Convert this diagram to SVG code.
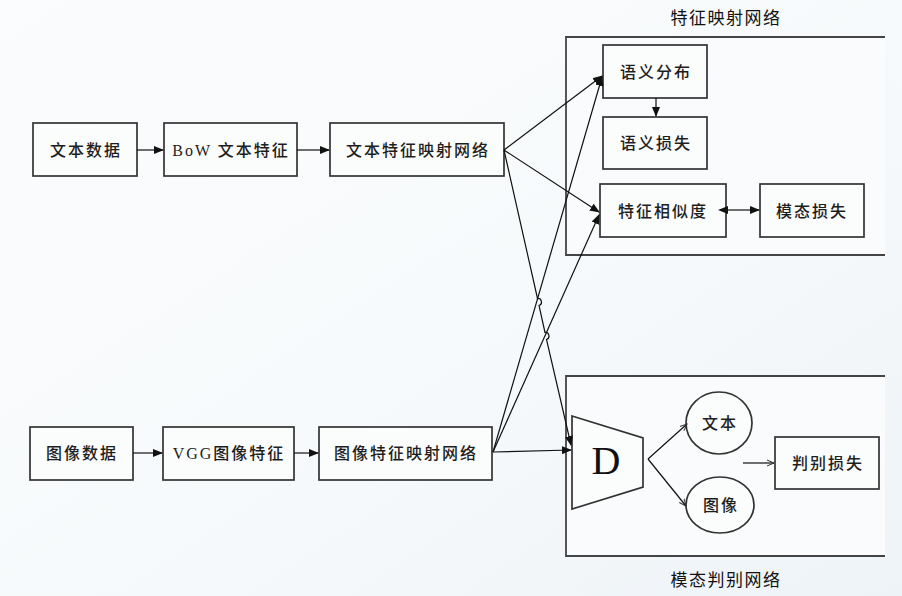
<svg xmlns="http://www.w3.org/2000/svg" width="902" height="596" viewBox="0 0 902 596">
<defs>
<linearGradient id="bg" x1="0" y1="0" x2="1" y2="1">
<stop offset="0" stop-color="#fbfcfd"/>
<stop offset="0.6" stop-color="#f6f9fb"/>
<stop offset="1" stop-color="#eef3f7"/>
</linearGradient>
<marker id="ah" markerWidth="10" markerHeight="8" refX="9" refY="4" orient="auto" markerUnits="userSpaceOnUse">
<path d="M0,0 L10,4 L0,8 Z" fill="#111"/>
</marker>
<marker id="ahs" markerWidth="10" markerHeight="8" refX="1" refY="4" orient="auto-start-reverse" markerUnits="userSpaceOnUse">
<path d="M0,0 L10,4 L0,8 Z" fill="#111"/>
</marker>
<marker id="ao" markerWidth="8" markerHeight="8" refX="7" refY="4" orient="auto" markerUnits="userSpaceOnUse">
<path d="M0,1 L7,4 L0,7" fill="none" stroke="#333" stroke-width="1"/>
</marker>
</defs>
<style>
.box{fill:#fbfcfc;stroke:#333;stroke-width:1.7}
.cont{fill:#fafbfc;stroke:#444;stroke-width:1.8}
.t{font-family:"Liberation Serif","Noto Sans CJK SC",serif;font-size:16px;font-weight:500;fill:#1e1e1e;text-anchor:middle;dominant-baseline:central;letter-spacing:2px}
.lbl{font-family:"Noto Sans CJK SC",sans-serif;font-size:17px;fill:#111;text-anchor:middle;dominant-baseline:central;letter-spacing:1.5px}
.c{fill:none;stroke:#111;stroke-width:1.2}
</style>
<rect width="902" height="596" fill="url(#bg)"/>

<g id="featureNetwork">
<path class="cont" d="M885,37 L566,37 L566,255 L885,255"/>
<text class="lbl" x="726" y="16">特征映射网络</text>
</g>
<g id="discNetwork">
<path class="cont" d="M885,376 L566,376 L566,556 L885,556"/>
<text class="lbl" x="726" y="578">模态判别网络</text>
</g>

<g id="textData"><rect class="box" x="33" y="123" width="104" height="53"/><text class="t" x="86" y="150">文本数据</text></g>
<g id="bowFeature"><rect class="box" x="164" y="123" width="133" height="53"/><text class="t" x="231" y="150">BoW 文本特征</text></g>
<g id="textMap"><rect class="box" x="330" y="123" width="174" height="53"/><text class="t" x="418" y="150">文本特征映射网络</text></g>

<g id="imageData"><rect class="box" x="30" y="427" width="103" height="53"/><text class="t" x="82" y="453">图像数据</text></g>
<g id="vggFeature"><rect class="box" x="163" y="427" width="131" height="53"/><text class="t" x="229" y="453">VGG图像特征</text></g>
<g id="imageMap"><rect class="box" x="319" y="427" width="173" height="53"/><text class="t" x="406" y="453">图像特征映射网络</text></g>

<g id="semDist"><rect class="box" x="603" y="45" width="104" height="53"/><text class="t" x="656" y="72">语义分布</text></g>
<g id="semLoss"><rect class="box" x="603" y="117" width="104" height="52"/><text class="t" x="656" y="143">语义损失</text></g>
<g id="featSim"><rect class="box" x="600" y="184" width="126" height="53"/><text class="t" x="663" y="211">特征相似度</text></g>
<g id="modalLoss"><rect class="box" x="760" y="184" width="104" height="53"/><text class="t" x="812" y="211">模态损失</text></g>

<g id="D"><path class="box" d="M572,416 L643,438 L643,487 L572,509 Z"/><text x="606" y="460" font-family="Liberation Serif,serif" font-size="40" fill="#111" text-anchor="middle" dominant-baseline="central">D</text></g>
<g id="textCircle"><ellipse class="box" cx="719" cy="423" rx="33" ry="31"/><text class="t" x="720" y="423">文本</text></g>
<g id="imageCircle"><ellipse class="box" cx="720" cy="505" rx="34" ry="28"/><text class="t" x="721" y="505">图像</text></g>
<g id="discLoss"><rect class="box" x="775" y="437" width="104" height="52"/><text class="t" x="828" y="463">判别损失</text></g>

<g id="connectors">
<line class="c" x1="137" y1="150" x2="163" y2="150" marker-end="url(#ah)"/>
<line class="c" x1="297" y1="150" x2="329" y2="150" marker-end="url(#ah)"/>
<line class="c" x1="133" y1="453" x2="162" y2="453" marker-end="url(#ah)"/>
<line class="c" x1="294" y1="453" x2="318" y2="453" marker-end="url(#ah)"/>
<line class="c" x1="504" y1="150" x2="602" y2="76" marker-end="url(#ah)"/>
<line class="c" x1="504" y1="150" x2="599" y2="212" marker-end="url(#ah)"/>
<path class="c" d="M504,150 L537.5,298.5 A3.6,3.6 0 0 1 539,305.5 L545,332.5 A3.6,3.6 0 0 1 546.5,339.5 L571,445" marker-end="url(#ah)"/>
<line class="c" x1="493" y1="452" x2="602" y2="77" marker-end="url(#ah)"/>
<line class="c" x1="493" y1="452" x2="599" y2="215" marker-end="url(#ah)"/>
<line class="c" x1="493" y1="452" x2="571" y2="450" marker-end="url(#ah)"/>
<line class="c" x1="656" y1="98" x2="656" y2="116" marker-end="url(#ah)"/>
<line class="c" x1="727" y1="210" x2="759" y2="210" marker-start="url(#ahs)" marker-end="url(#ah)"/>
<line class="c" x1="648" y1="459" x2="687" y2="424" marker-end="url(#ao)"/>
<line class="c" x1="648" y1="459" x2="686" y2="506" marker-end="url(#ao)"/>
<line class="c" x1="743" y1="463" x2="774" y2="463" marker-end="url(#ao)"/>
</g>
</svg>
